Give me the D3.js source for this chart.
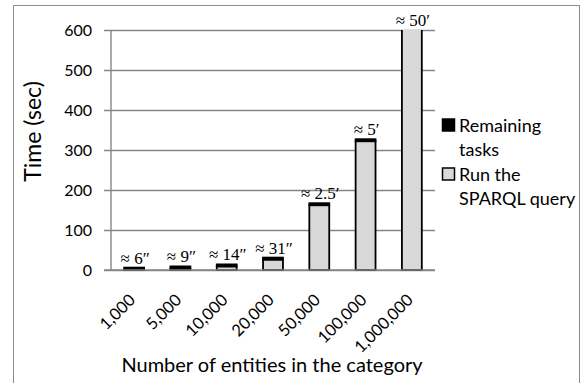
<!DOCTYPE html>
<html>
<head>
<meta charset="utf-8">
<script src="https://cdn.jsdelivr.net/npm/d3@7"></script>
<style>
  html, body { margin: 0; padding: 0; background: #fff; }
  svg { display: block; }
  text { font-family: Lato, "Open Sans", sans-serif; fill: #000; }
</style>
</head>
<body>
<svg id="chart" width="585" height="383"></svg>
<script>
// Category labels (number of entities)
const categories = ["1,000", "5,000", "10,000", "20,000", "50,000", "100,000", "1,000,000"];
// Time spent running the SPARQL query (seconds)
const sparqlSeconds = [1, 4, 9, 26, 162, 322, 2990];
// Time spent on the remaining tasks (seconds)
const remainingSeconds = [5, 5, 5, 5, 5, 5, 10];
// Approximate total time shown above each bar
const totalLabels = ["≈ 6″", "≈ 9″", "≈ 14″", "≈ 31″", "≈ 2.5′", "≈ 5′", "≈ 50′"];
// Y axis ticks
const yTicks = [0, 100, 200, 300, 400, 500, 600];
// Series names (legend)
const seriesNames = ["Remaining tasks", "Run the SPARQL query"];

const svg = d3.select("#chart");

// Outer chart border
svg.append("rect")
  .attr("x", 13.5).attr("y", 5.5)
  .attr("width", 566).attr("height", 390)
  .attr("fill", "none").attr("stroke", "#8c8c8c").attr("stroke-width", 1);

const plot = { left: 111, right: 435, top: 30, bottom: 270 };

const x = d3.scaleBand()
  .domain(categories)
  .range([plot.left, plot.right])
  .paddingInner(0.57).paddingOuter(0.285);

const y = d3.scaleLinear()
  .domain([0, 600])
  .range([plot.bottom, plot.top]);

// Gridlines and y axis
const yAxis = d3.axisLeft(y)
  .tickValues(yTicks)
  .tickSize(-(plot.right - plot.left))
  .tickPadding(0)
  .tickFormat(d3.format("d"));

const gy = svg.append("g")
  .attr("transform", `translate(${plot.left},0)`)
  .call(yAxis);
gy.select(".domain").remove();
gy.selectAll(".tick line")
  .attr("x1", -7)
  .attr("stroke", "#868686").attr("stroke-width", 1.4);
gy.selectAll(".tick text")
  .attr("x", -19)
  .attr("dy", "0.35em")
  .style("font-size", "16px")
  .style("font-family", "Lato, sans-serif")
  .attr("fill", "#000");

// Y axis line
svg.append("line")
  .attr("x1", plot.left).attr("x2", plot.left)
  .attr("y1", plot.top).attr("y2", plot.bottom)
  .attr("stroke", "#868686").attr("stroke-width", 1.4);

// Stacked data
const rows = categories.map((c, i) => ({
  cat: c, sparql: sparqlSeconds[i], remaining: remainingSeconds[i], label: totalLabels[i]
}));
const stack = d3.stack().keys(["sparql", "remaining"]);
const series = stack(rows);
const fills = { sparql: "#d9d9d9", remaining: "#000000" };

// Bars are clipped at the top of the value axis
svg.append("clipPath").attr("id", "plotClip")
  .append("rect")
  .attr("x", plot.left).attr("y", plot.top)
  .attr("width", plot.right - plot.left).attr("height", plot.bottom - plot.top + 2);

const barsG = svg.append("g").attr("clip-path", "url(#plotClip)");
series.forEach(s => {
  barsG.selectAll(null)
    .data(s)
    .join("rect")
    .attr("x", d => x(d.data.cat))
    .attr("width", x.bandwidth())
    .attr("y", d => y(d[1]))
    .attr("height", d => y(d[0]) - y(d[1]))
    .attr("fill", fills[s.key])
    .attr("stroke", "#000")
    .attr("stroke-width", 1.8);
});

// Baseline (category axis)
svg.append("line")
  .attr("x1", plot.left - 7).attr("x2", plot.right)
  .attr("y1", plot.bottom).attr("y2", plot.bottom)
  .attr("stroke", "#868686").attr("stroke-width", 1.6);

// Total-time labels above bars
svg.append("g").selectAll("text")
  .data(rows)
  .join("text")
  .attr("x", d => x(d.cat) + x.bandwidth() / 2 + 1)
  .attr("y", d => Math.max(y(d.sparql + d.remaining), plot.top) - 4)
  .attr("text-anchor", "middle")
  .style("font-family", "'Liberation Serif', 'DejaVu Serif', serif")
  .style("font-size", "17px")
  .text(d => d.label);

// Category labels, rotated
const xAxis = d3.axisBottom(x).tickSize(0).tickPadding(0);
const gx = svg.append("g")
  .attr("transform", `translate(0,${plot.bottom})`)
  .call(xAxis);
gx.select(".domain").remove();
gx.selectAll(".tick text")
  .attr("transform", "translate(-2,27) rotate(-45)")
  .attr("text-anchor", "end")
  .attr("dy", "0.35em")
  .attr("y", 0)
  .style("font-size", "16.5px")
  .style("font-family", "Lato, sans-serif")
  .attr("fill", "#000");

// Axis titles
svg.append("text")
  .attr("x", (plot.left + plot.right) / 2 - 1)
  .attr("y", 372)
  .attr("text-anchor", "middle")
  .style("font-size", "20px")
  .text("Number of entities in the category");

svg.append("text")
  .attr("transform", `translate(41,${(80 + 183) / 2}) rotate(-90)`)
  .attr("text-anchor", "middle")
  .style("font-size", "23px")
  .text("Time (sec)");

// Legend
const legend = svg.append("g");
const legendItems = [
  { name: seriesNames[0], fill: fills.remaining, lines: ["Remaining", "tasks"] },
  { name: seriesNames[1], fill: fills.sparql, lines: ["Run the", "SPARQL query"] }
];
legendItems.forEach((it, i) => {
  const base = 132 + i * 49;
  legend.append("rect")
    .attr("x", 442.5).attr("y", base - 13)
    .attr("width", 12).attr("height", 12)
    .attr("fill", it.fill).attr("stroke", "#000").attr("stroke-width", 1.5);
  it.lines.forEach((ln, j) => {
    legend.append("text")
      .attr("x", 459)
      .attr("y", base + j * 24)
      .style("font-size", "18px")
      .text(ln);
  });
});
</script>
</body>
</html>
